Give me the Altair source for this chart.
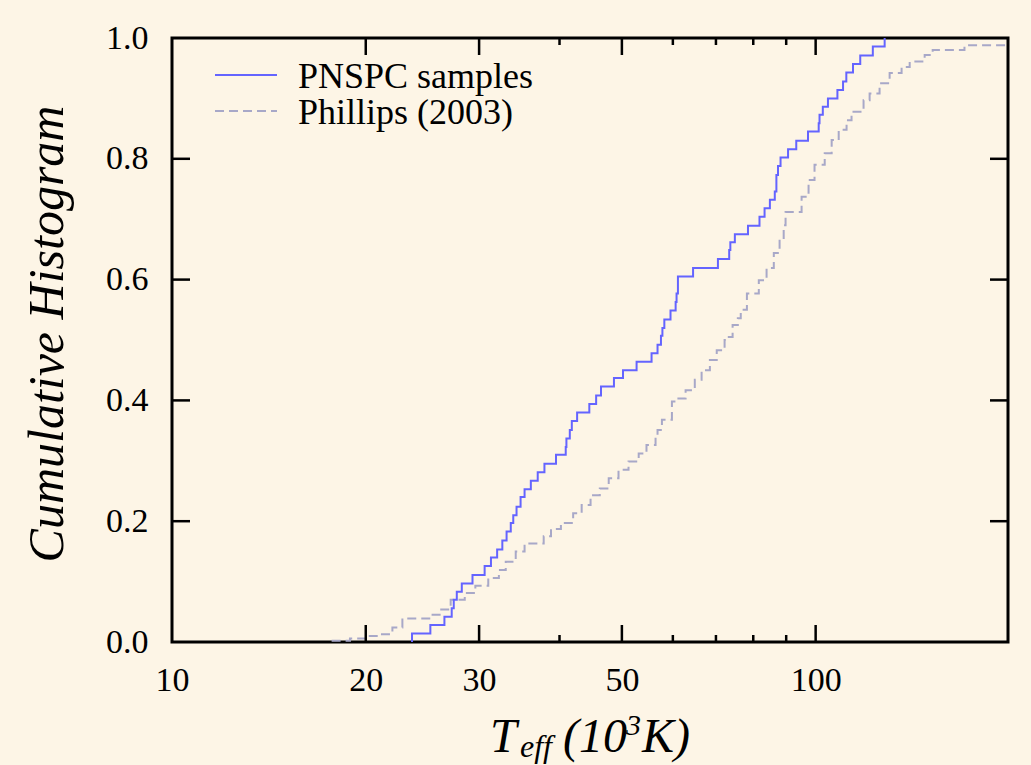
import altair as alt
import pandas as pd

# ---- data ----
pnspc_teff = [23.6, 23.6, 25.2, 26.5, 27.2, 27.4, 27.7, 28.2, 29.3, 30.6, 31.3, 32.0, 32.6, 33.1,
              33.6, 33.9, 34.3, 34.8, 35.3, 36.1, 37.0, 37.9, 39.5, 40.9, 41.0, 41.5, 41.8, 42.6,
              44.5, 45.6, 46.4, 48.6, 50.2, 52.7, 55.6, 56.8, 57.5, 57.8, 58.2, 59.5, 60.6, 60.8,
              61.1, 64.5, 70.5, 73.4, 73.7, 74.9, 78.5, 81.8, 83.3, 84.9, 86.4, 86.9, 87.4, 88.2,
              90.6, 93.3, 97.3, 101.1, 101.4, 102.6, 104.5, 108.1, 110.3, 111.6, 114.3, 117.3,
              122.7, 128.0]
pnspc_frac = [0.0, 0.014, 0.028, 0.042, 0.056, 0.070, 0.083, 0.097, 0.111, 0.126, 0.140, 0.153,
              0.168, 0.183, 0.197, 0.210, 0.224, 0.240, 0.253, 0.267, 0.281, 0.295, 0.310, 0.323,
              0.337, 0.351, 0.366, 0.380, 0.394, 0.408, 0.423, 0.437, 0.450, 0.464, 0.478, 0.492,
              0.507, 0.520, 0.534, 0.549, 0.563, 0.577, 0.605, 0.619, 0.634, 0.649, 0.662, 0.675,
              0.689, 0.704, 0.718, 0.732, 0.746, 0.773, 0.788, 0.802, 0.816, 0.830, 0.845, 0.859,
              0.873, 0.886, 0.900, 0.914, 0.928, 0.943, 0.957, 0.971, 0.986, 1.0]

phillips_teff = [17.7, 18.9, 20.0, 20.8, 22.0, 22.8, 25.4, 26.2, 27.1, 28.5, 29.6, 31.0, 32.2,
                 33.0, 34.2, 35.3, 37.8, 38.8, 40.2, 42.0, 43.3, 44.7, 46.2, 47.7, 49.4, 51.2,
                 53.1, 54.6, 56.4, 56.8, 57.7, 59.8, 60.6, 62.8, 64.9, 66.5, 68.5, 70.2, 72.2,
                 73.0, 74.3, 75.7, 76.5, 78.2, 81.6, 83.9, 86.1, 87.9, 89.2, 89.8, 95.1, 97.5,
                 99.6, 103.3, 105.9, 108.6, 111.7, 113.7, 118.7, 121.3, 125.7, 130.3, 136.0,
                 140.0, 147.7, 152.0, 170.3, 199.0]
phillips_frac = [0.002, 0.006, 0.010, 0.013, 0.024, 0.039, 0.045, 0.054, 0.070, 0.081, 0.093,
                 0.106, 0.119, 0.133, 0.150, 0.163, 0.175, 0.187, 0.197, 0.213, 0.227, 0.243,
                 0.254, 0.271, 0.285, 0.299, 0.312, 0.326, 0.339, 0.351, 0.368, 0.398, 0.403,
                 0.417, 0.434, 0.450, 0.467, 0.483, 0.500, 0.505, 0.525, 0.536, 0.550, 0.577,
                 0.599, 0.619, 0.644, 0.666, 0.690, 0.712, 0.737, 0.765, 0.790, 0.809, 0.831,
                 0.848, 0.864, 0.878, 0.897, 0.908, 0.925, 0.942, 0.952, 0.961, 0.972, 0.980,
                 0.988, 0.988]

series_names = ["PNSPC samples", "Phillips (2003)"]

x_label_values = [10, 20, 30, 50, 100]
y_label_values = [0.0, 0.2, 0.4, 0.6, 0.8, 1.0]
x_major_ticks = [20, 30, 50, 100]
x_minor_ticks = [40, 60, 70, 80, 90]
y_major_ticks = [0.2, 0.4, 0.6, 0.8]

assert len(pnspc_teff) == len(pnspc_frac)
assert len(phillips_teff) == len(phillips_frac)

# ---- styling ----
W, H = 836, 604
BG = "#fdf5e6"
FONT = "Liberation Serif"
BLUE = "#6464ff"
GREY = "#a8a8c8"

xscale = alt.Scale(type="log", domain=[10, 199], nice=False)
yscale = alt.Scale(domain=[0, 1], nice=False, zero=False)

pn = pd.DataFrame({"teff": pnspc_teff, "frac": pnspc_frac, "i": list(range(len(pnspc_teff)))})
ph = pd.DataFrame({"teff": phillips_teff, "frac": phillips_frac, "i": list(range(len(phillips_teff)))})

xaxis = alt.Axis(values=x_label_values, format="d", ticks=False, tickSize=0, domain=False,
                 grid=False, labelFont=FONT, labelFontSize=34, labelColor="black",
                 labelPadding=21, labelFlush=False, labelOverlap=False, title=None)
yaxis = alt.Axis(values=y_label_values, format=".1f", ticks=False, tickSize=0, domain=False,
                 grid=False, labelFont=FONT, labelFontSize=34, labelColor="black",
                 labelPadding=24, labelFlush=False, labelOverlap=False, title=None)

phillips_line = alt.Chart(ph).mark_line(
    interpolate="step-after", color=GREY, strokeWidth=2, strokeDash=[9, 5], clip=True
).encode(
    x=alt.X("teff:Q", scale=xscale, axis=xaxis),
    y=alt.Y("frac:Q", scale=yscale, axis=yaxis),
    order="i:Q",
)

pnspc_line = alt.Chart(pn).mark_line(
    interpolate="step-after", color=BLUE, strokeWidth=2, clip=True
).encode(
    x=alt.X("teff:Q", scale=xscale, axis=xaxis),
    y=alt.Y("frac:Q", scale=yscale, axis=yaxis),
    order="i:Q",
)

# ---- inward ticks on all four sides ----
xmaj = pd.DataFrame({"teff": x_major_ticks})
xmin = pd.DataFrame({"teff": x_minor_ticks})
ymaj = pd.DataFrame({"frac": y_major_ticks})

def xticks(df, length, top):
    y0 = 0 if top else H
    y1 = length if top else H - length
    return alt.Chart(df).mark_rule(color="black", strokeWidth=2.5).encode(
        x=alt.X("teff:Q", scale=xscale, axis=xaxis), y=alt.value(y0), y2=alt.value(y1))

def yticks(df, length, right):
    x0 = W if right else 0
    x1 = W - length if right else length
    return alt.Chart(df).mark_rule(color="black", strokeWidth=2.5).encode(
        y=alt.Y("frac:Q", scale=yscale, axis=yaxis), x=alt.value(x0), x2=alt.value(x1))

tick_layers = [xticks(xmaj, 17, False), xticks(xmaj, 17, True),
               xticks(xmin, 7, False), xticks(xmin, 7, True),
               yticks(ymaj, 18, False), yticks(ymaj, 18, True)]

one = pd.DataFrame({"a": [0]})

def label(txt, x, y, size, italic=False, angle=0, align="left", baseline="alphabetic"):
    kw = dict(text=txt, font=FONT, fontSize=size, color="black", align=align,
              baseline=baseline, fontStyle="italic" if italic else "normal")
    if angle:
        kw["angle"] = angle
    return alt.Chart(one).mark_text(**kw).encode(x=alt.value(x), y=alt.value(y))

# legend
legend_layers = [
    alt.Chart(one).mark_rule(color=BLUE, strokeWidth=2).encode(
        x=alt.value(43), x2=alt.value(105), y=alt.value(37)),
    alt.Chart(one).mark_rule(color=GREY, strokeWidth=2, strokeDash=[9, 5]).encode(
        x=alt.value(43), x2=alt.value(105), y=alt.value(73)),
    label(series_names[0], 126, 50, 36),
    label(series_names[1], 126, 86, 36),
]

# axis titles
title_layers = [
    label("Cumulative Histogram", -124, 296, 50, italic=True, angle=270,
          align="center", baseline="middle"),
    label("T", 318, 714, 48, italic=True),
    label("eff", 348, 719, 32, italic=True),
    label("(10", 391, 714, 48, italic=True),
    label("3", 454, 697, 30, italic=True),
    label("K)", 470, 714, 48, italic=True),
]

chart = alt.layer(
    phillips_line, pnspc_line, *tick_layers, *legend_layers, *title_layers
).properties(
    width=W, height=H,
    background=BG,
    padding={"left": 172, "top": 38, "right": 23, "bottom": 123},
    autosize=alt.AutoSizeParams(type="none"),
).configure_view(
    stroke="black", strokeWidth=3, fill=BG
)

chart.save("out.html", embed_options={"renderer": "svg", "actions": False})
